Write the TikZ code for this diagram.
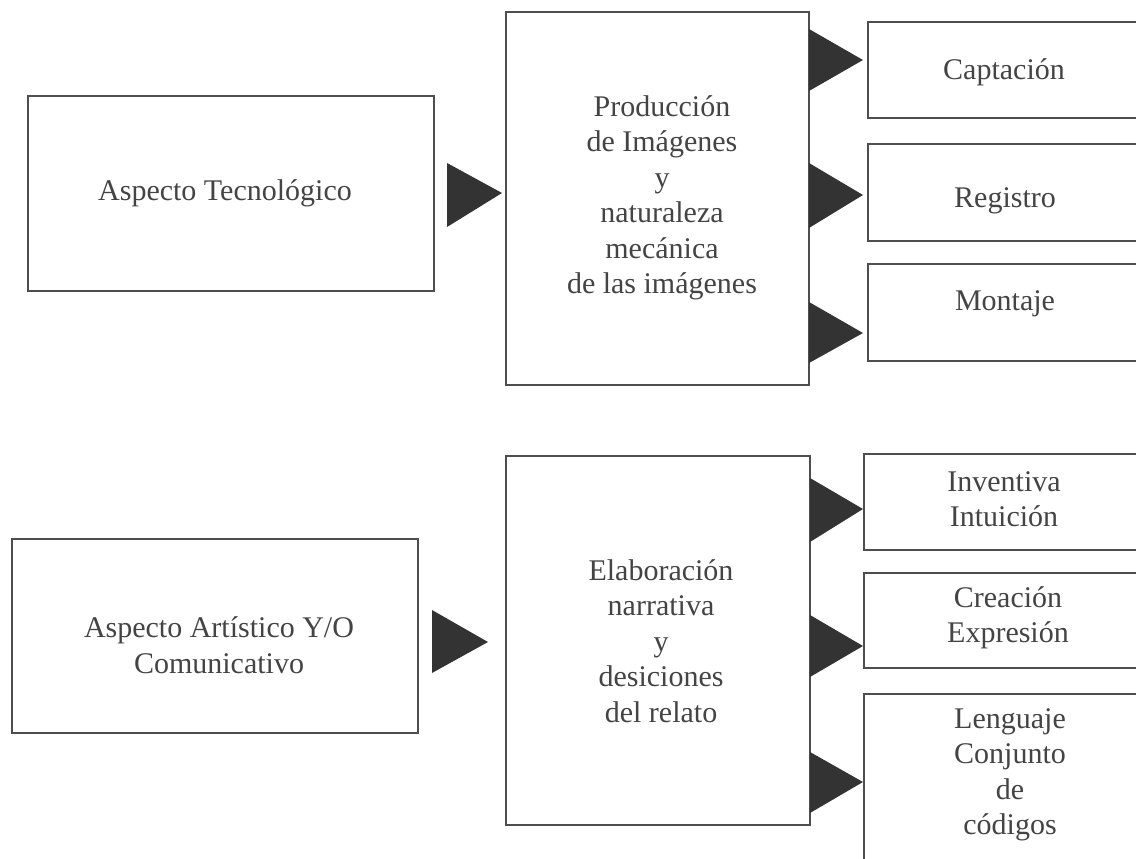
\documentclass[tikz,border=0pt]{standalone}
\usepackage{fontspec}
\setmainfont{Liberation Serif}
\usetikzlibrary{calc}
\definecolor{linec}{RGB}{78,78,78}
\definecolor{txtc}{RGB}{68,68,68}
\definecolor{trifill}{RGB}{51,51,51}
\begin{document}
\begin{tikzpicture}[x=1pt,y=-1pt,
  box/.style={draw=linec, line width=1.8pt, rectangle, inner sep=0pt, outer sep=0pt},
  lbl/.style={text=txtc, font=\fontsize{30}{35.5}\selectfont, align=center, inner sep=0pt},
  tri/.style={fill=trifill}]
\useasboundingbox (0,0) rectangle (1136,859);
\clip (0,0) rectangle (1136,859);
\fill[white] (0,0) rectangle (1136,859);

% ---------- top group ----------
\node[box, minimum width=406pt, minimum height=195pt] (A) at (231,193.5) {};
\node[lbl] (At) at (225,193) {Aspecto Tecnológico};

\node[box, minimum width=303pt, minimum height=373pt] (P) at (657.5,198.5) {};
\node[lbl] (Pt) at (662,198) {Producción\\de Imágenes\\y\\naturaleza\\mecánica\\de las imágenes};

\node[box, minimum width=274pt, minimum height=96pt] (C) at (1005,70) {};
\node[lbl] (Ct) at (1004,72) {Captación};
\node[box, minimum width=274pt, minimum height=97pt] (R) at (1005,192.5) {};
\node[lbl] (Rt) at (1005,201) {Registro};
\node[box, minimum width=274pt, minimum height=97pt] (M) at (1005,312.5) {};
\node[lbl] (Mt) at (1005,304) {Montaje};

\coordinate (a1) at ([xshift=13pt]A.east);
\coordinate (p1) at ([xshift=-4pt]P.west);
\fill[tri] (a1 |- 0,163) -- (a1 |- 0,227) -- (p1 |- 0,193) -- cycle;

\coordinate (c1) at ([xshift=-5pt]C.west);
\fill[tri] (P.east |- 0,29) -- (P.east |- 0,91) -- (c1 |- 0,60) -- cycle;
\coordinate (r1) at ([xshift=-5pt]R.west);
\fill[tri] (P.east |- 0,163) -- (P.east |- 0,228) -- (r1 |- 0,195) -- cycle;
\coordinate (m1) at ([xshift=-5pt]M.west);
\fill[tri] (P.east |- 0,302) -- (P.east |- 0,363) -- (m1 |- 0,333) -- cycle;

% ---------- bottom group ----------
\node[box, minimum width=406pt, minimum height=194pt] (B) at (215,636) {};
\node[lbl] (Bt) at (219,645) {Aspecto Artístico Y/O\\Comunicativo};

\node[box, minimum width=304pt, minimum height=369pt] (E) at (658,640.5) {};
\node[lbl] (Et) at (661,641) {Elaboración\\narrativa\\y\\desiciones\\del relato};

\node[box, minimum width=278pt, minimum height=96pt] (I) at (1003,502) {};
\node[lbl] (It) at (1004,499) {Inventiva\\Intuición};
\node[box, minimum width=278pt, minimum height=95pt] (Cr) at (1003,620.5) {};
\node[lbl] (Crt) at (1008,618) {Creación\\Expresión};
\node[box, minimum width=278pt, minimum height=206pt] (L) at (1003,797) {};
\node[lbl] (Lt) at (1010,775) {Lenguaje\\Conjunto\\de\\códigos};

\coordinate (b1) at ([xshift=14pt]B.east);
\coordinate (e1) at ([xshift=-18pt]E.west);
\fill[tri] (b1 |- 0,610) -- (b1 |- 0,673) -- (e1 |- 0,642) -- cycle;

\coordinate (i1) at ([xshift=-1pt]I.west);
\fill[tri] (E.east |- 0,478) -- (E.east |- 0,542) -- (i1 |- 0,509) -- cycle;
\coordinate (cr1) at ([xshift=-1pt]Cr.west);
\fill[tri] (E.east |- 0,615) -- (E.east |- 0,677) -- (cr1 |- 0,646) -- cycle;
\coordinate (l1) at ([xshift=-1pt]L.west);
\fill[tri] (E.east |- 0,752) -- (E.east |- 0,813) -- (l1 |- 0,782) -- cycle;
\end{tikzpicture}
\end{document}
